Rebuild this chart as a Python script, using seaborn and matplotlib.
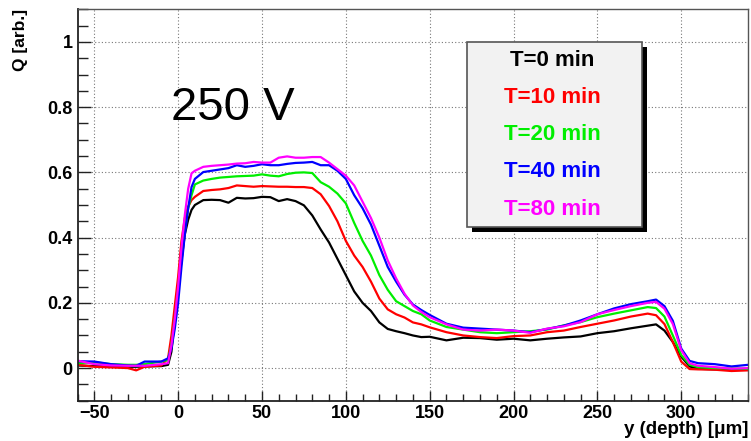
import numpy as np
import pandas as pd
import matplotlib
matplotlib.use('Agg')
import matplotlib.pyplot as plt
from matplotlib.patches import Rectangle
from matplotlib.ticker import MultipleLocator
import seaborn as sns

# ── data ──────────────────────────────────────────────────────
depth = [-60, -50, -40, -30, -25, -20, -10, -6, -4, -2,
         0, 2, 4, 6, 8, 10, 15, 20, 25, 30,
         35, 40, 45, 50, 55, 60, 65, 70, 75, 80,
         85, 90, 95, 100, 105, 110, 115, 120, 125, 130,
         135, 140, 145, 150, 160, 170, 180, 190, 200, 210,
         220, 230, 240, 250, 260, 270, 280, 285, 290, 295,
         300, 305, 310, 320, 330, 340]

q_t0 = [0.008, 0.006, 0.005, 0.004, 0.004, 0.005, 0.006, 0.010, 0.050, 0.150,
        0.240, 0.330, 0.410, 0.455, 0.485, 0.500, 0.515, 0.516, 0.515, 0.507,
        0.522, 0.520, 0.521, 0.525, 0.524, 0.512, 0.518, 0.512, 0.499, 0.468,
        0.425, 0.385, 0.335, 0.285, 0.235, 0.200, 0.175, 0.140, 0.120, 0.113,
        0.107, 0.100, 0.095, 0.096, 0.085, 0.093, 0.092, 0.087, 0.090, 0.085,
        0.090, 0.094, 0.097, 0.107, 0.113, 0.122, 0.130, 0.134, 0.115, 0.080,
        0.035, 0.005, -0.002, -0.004, -0.004, -0.005]

q_t10 = [0.010, 0.004, 0.002, 0.000, -0.007, 0.004, 0.008, 0.030, 0.100, 0.190,
         0.280, 0.390, 0.460, 0.495, 0.515, 0.525, 0.543, 0.546, 0.548, 0.552,
         0.560, 0.558, 0.556, 0.558, 0.557, 0.556, 0.556, 0.555, 0.555, 0.552,
         0.533, 0.497, 0.450, 0.390, 0.345, 0.310, 0.265, 0.213, 0.180, 0.165,
         0.155, 0.140, 0.134, 0.125, 0.110, 0.100, 0.095, 0.092, 0.098, 0.100,
         0.110, 0.115, 0.126, 0.136, 0.146, 0.158, 0.167, 0.162, 0.135, 0.080,
         0.020, -0.003, -0.004, -0.005, -0.009, -0.007]

q_t20 = [0.015, 0.018, 0.012, 0.010, 0.010, 0.012, 0.020, 0.025, 0.070, 0.150,
         0.240, 0.340, 0.420, 0.490, 0.530, 0.563, 0.575, 0.580, 0.584, 0.586,
         0.588, 0.589, 0.590, 0.594, 0.590, 0.588, 0.595, 0.599, 0.600, 0.598,
         0.570, 0.556, 0.535, 0.505, 0.445, 0.390, 0.345, 0.285, 0.240, 0.205,
         0.190, 0.175, 0.165, 0.146, 0.126, 0.118, 0.110, 0.107, 0.110, 0.113,
         0.118, 0.131, 0.141, 0.156, 0.167, 0.177, 0.187, 0.184, 0.158, 0.100,
         0.040, 0.010, 0.003, 0.000, -0.001, -0.002]

q_t40 = [0.021, 0.020, 0.012, 0.008, 0.007, 0.020, 0.020, 0.030, 0.060, 0.120,
         0.200, 0.310, 0.410, 0.490, 0.555, 0.580, 0.601, 0.605, 0.609, 0.613,
         0.622, 0.617, 0.620, 0.625, 0.622, 0.622, 0.626, 0.629, 0.630, 0.632,
         0.622, 0.622, 0.605, 0.580, 0.530, 0.490, 0.440, 0.375, 0.310, 0.265,
         0.225, 0.195, 0.178, 0.163, 0.136, 0.124, 0.121, 0.118, 0.115, 0.110,
         0.120, 0.130, 0.146, 0.165, 0.183, 0.196, 0.205, 0.210, 0.190, 0.145,
         0.060, 0.022, 0.015, 0.012, 0.005, 0.010]

q_t80 = [0.023, 0.012, 0.008, 0.007, 0.007, 0.007, 0.012, 0.015, 0.070, 0.150,
         0.250, 0.370, 0.470, 0.550, 0.597, 0.605, 0.617, 0.620, 0.622, 0.624,
         0.627, 0.628, 0.632, 0.630, 0.630, 0.645, 0.649, 0.645, 0.645, 0.647,
         0.647, 0.630, 0.610, 0.590, 0.560, 0.510, 0.460, 0.400, 0.330, 0.275,
         0.228, 0.192, 0.172, 0.156, 0.134, 0.118, 0.115, 0.118, 0.115, 0.108,
         0.121, 0.128, 0.141, 0.165, 0.178, 0.190, 0.200, 0.203, 0.182, 0.135,
         0.055, 0.015, 0.007, 0.003, -0.002, 0.000]

labels = ['T=0 min', 'T=10 min', 'T=20 min', 'T=40 min', 'T=80 min']
colors = ['#000000', '#ff0000', '#00ee00', '#0000ff', '#ff00ff']

series = [q_t0, q_t10, q_t20, q_t40, q_t80]
df = pd.concat([pd.DataFrame({'depth': depth, 'q': s, 'run': lab})
                for s, lab in zip(series, labels)], ignore_index=True)

sns.set_style("ticks")
plt.rcParams['font.family'] = ['Liberation Sans', 'DejaVu Sans']
plt.rcParams.update({'text.color': 'black', 'axes.labelcolor': 'black',
                     'xtick.color': 'black', 'ytick.color': 'black'})

fig, ax = plt.subplots(figsize=(7.51, 4.41), dpi=100)
fig.subplots_adjust(left=0.1032, right=0.9964, bottom=0.0914, top=0.9789)

sns.lineplot(data=df, x='depth', y='q', hue='run', palette=colors,
             estimator=None, sort=False, legend=False, linewidth=1.6, ax=ax)

ax.set_xlim(-60, 340)
ax.set_ylim(-0.1, 1.1)
ax.xaxis.set_major_locator(MultipleLocator(50))
ax.xaxis.set_minor_locator(MultipleLocator(10))
ax.yaxis.set_major_locator(MultipleLocator(0.2))
ax.yaxis.set_minor_locator(MultipleLocator(0.05))
ax.set_yticks([0, 0.2, 0.4, 0.6, 0.8, 1.0])
ax.set_yticklabels(['0', '0.2', '0.4', '0.6', '0.8', '1'])

ax.grid(True, which='major', color='#777777', linestyle=(0, (1, 2)), linewidth=0.8)
ax.tick_params(axis='both', which='both', direction='in', top=False, right=False,
               color='#222222', width=1.0)
ax.tick_params(axis='y', which='major', length=9, pad=3.5)
ax.tick_params(axis='y', which='minor', length=7)
ax.tick_params(axis='x', which='major', length=7, pad=3)
ax.tick_params(axis='x', which='minor', length=5)
for lab in ax.get_xticklabels() + ax.get_yticklabels():
    lab.set_fontweight('bold')
    lab.set_fontsize(13)

for side in ['left', 'bottom']:
    ax.spines[side].set_color('#222222')
    ax.spines[side].set_linewidth(1.3)
for side in ['top', 'right']:
    ax.spines[side].set_color('#555555')
    ax.spines[side].set_linewidth(1.0)

ax.set_xlabel('y (depth) [\u03bcm]', fontsize=13.5, fontweight='bold', ha='right')
ax.xaxis.set_label_coords(1.0, -0.052)
ax.set_ylabel('Q [arb.]', fontsize=12.5, fontweight='bold', loc='top', labelpad=4)
ax.yaxis.set_label_coords(-0.074, 1.0)

ax.text(-4.1, 0.76, '250 V', fontsize=34, color='black', ha='left', va='baseline')

# ── legend box with hard shadow ───────────────────────────────
bx, by, bw, bh = 0.580, 0.443, 0.261, 0.474
ax.add_patch(Rectangle((bx + 0.0075, by - 0.0128), bw, bh, transform=ax.transAxes,
                       facecolor='black', edgecolor='none', zorder=5))
ax.add_patch(Rectangle((bx, by), bw, bh, transform=ax.transAxes,
                       facecolor='#f2f2f2', edgecolor='#555555', linewidth=1.2, zorder=6))
ypos = [0.869, 0.774, 0.681, 0.585, 0.489]
for lab, col, yy in zip(labels, colors, ypos):
    ax.text(0.708, yy, lab, color=col, fontsize=16, fontweight='bold',
            ha='center', va='center', transform=ax.transAxes, zorder=7)

plt.savefig('out.png', dpi=100)
plt.close()
